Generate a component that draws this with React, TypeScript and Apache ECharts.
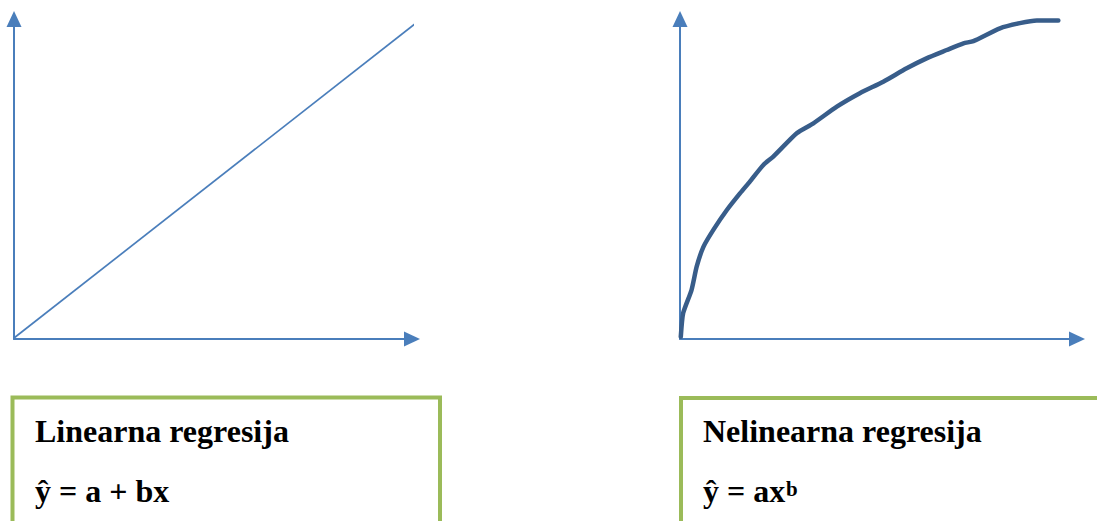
import React, { useEffect, useRef } from "react";
import * as echarts from "echarts";

// Left panel: straight regression line (axis units 0..100)
const linearX = [0, 102];
const linearY = [0.3, 99.7];

// Right panel: power-curve (axis units 0..100)
const curveX = [0.2, 0.8, 2.9, 4.2, 5.9, 8.4, 11.8, 15.1, 17.6, 21.0, 23.5, 29.4, 33.6, 39.5, 45.3, 51.2, 57.1, 62.1, 67.2, 71.4, 73.9, 80.6, 85.6, 89.9, 95.3];
const curveY = [0.7, 8.1, 15.3, 22.6, 28.8, 34.1, 40.3, 45.5, 49.2, 54.4, 57.0, 64.3, 67.4, 72.6, 76.8, 80.4, 84.6, 87.7, 90.3, 92.4, 93.1, 97.1, 98.7, 99.5, 99.5];

const leftTitle = "Linearna regresija";
const leftFormula = "ŷ = a + bx";
const rightTitle = "Nelinearna regresija";
const rightFormula = "ŷ = ax";
const rightSup = "b";

const AXIS_COLOR = "#4a7ebb";
const CURVE_COLOR = "#385d8a";
const BOX_COLOR = "#9bbb59";
const FONT = '"Liberation Serif", "Times New Roman", serif';

function axisPair(grid: number) {
  const line = {
    show: true,
    onZero: false,
    symbol: ["none", "triangle"],
    symbolSize: [15, 16],
    lineStyle: { color: AXIS_COLOR, width: 2 },
  };
  const common = {
    type: "value" as const,
    gridIndex: grid,
    min: 0,
    max: 100,
    axisLine: line,
    axisTick: { show: false },
    axisLabel: { show: false },
    splitLine: { show: false },
  };
  return { x: { ...common }, y: { ...common } };
}

export default function App() {
  const ref = useRef<HTMLDivElement>(null);

  useEffect(() => {
    if (!ref.current) return;
    const chart = echarts.init(ref.current, undefined, { renderer: "svg" });
    const a0 = axisPair(0);
    const a1 = axisPair(1);
    const textStyle = (text: string, x: number, y: number, size = 32) => ({
      type: "text",
      style: {
        text,
        x,
        y,
        fontFamily: FONT,
        fontWeight: "bold",
        fontSize: size,
        fill: "#000",
        verticalAlign: "middle",
        textAlign: "left",
      },
    });
    chart.setOption({
      animation: false,
      grid: [
        { left: 14, top: 19, width: 398, height: 320 },
        { left: 680, top: 19, width: 397, height: 320 },
      ],
      xAxis: [a0.x, a1.x],
      yAxis: [a0.y, a1.y],
      series: [
        {
          type: "line",
          xAxisIndex: 0,
          yAxisIndex: 0,
          data: linearX.map((x, i) => [x, linearY[i]]),
          showSymbol: false,
          clip: false,
          lineStyle: { color: AXIS_COLOR, width: 1.7 },
          silent: true,
        },
        {
          type: "line",
          xAxisIndex: 1,
          yAxisIndex: 1,
          data: curveX.map((x, i) => [x, curveY[i]]),
          showSymbol: false,
          clip: false,
          smooth: 0.2,
          lineStyle: { color: CURVE_COLOR, width: 4.5, cap: "round", join: "round" },
          silent: true,
        },
      ],
      graphic: [
        {
          type: "rect",
          shape: { x: 12.5, y: 397.5, width: 427.5, height: 200 },
          style: { fill: "none", stroke: BOX_COLOR, lineWidth: 4 },
        },
        {
          type: "rect",
          shape: { x: 681, y: 398, width: 500, height: 200 },
          style: { fill: "none", stroke: BOX_COLOR, lineWidth: 4 },
        },
        textStyle(leftTitle, 35, 431),
        textStyle(leftFormula, 35, 491),
        textStyle(rightTitle, 703, 431),
        textStyle(rightFormula, 703, 491),
        textStyle(rightSup, 786, 489, 21),
      ],
    });
    return () => chart.dispose();
  }, []);

  return (
    <div
      ref={ref}
      style={{ position: "absolute", left: 0, top: 0, width: 1097, height: 521, background: "#fff" }}
    />
  );
}
